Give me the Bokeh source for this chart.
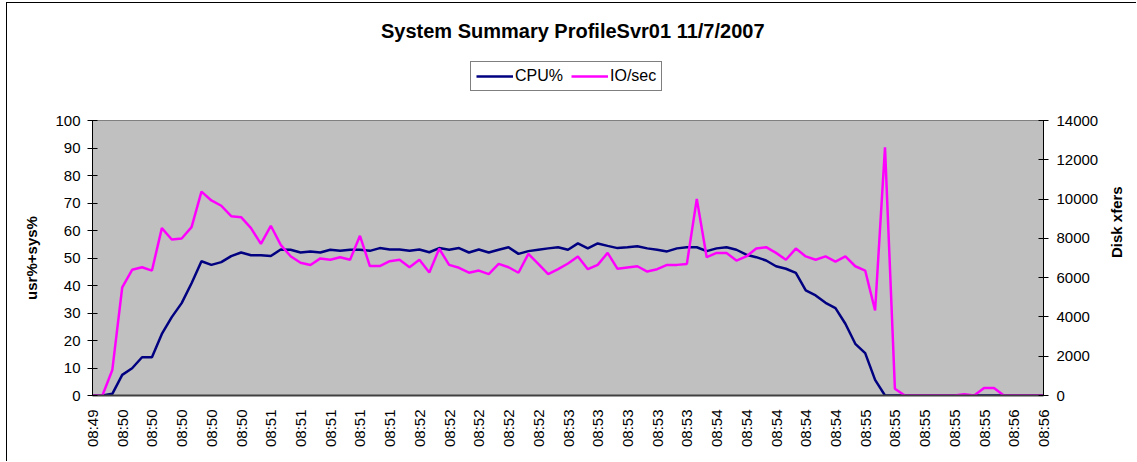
import math
from bokeh.plotting import figure
from bokeh.models import Range1d, LinearAxis, FixedTicker, Legend, LegendItem, Label, Column
from bokeh.embed import file_html
from bokeh.resources import INLINE

title_text = "System Summary ProfileSvr01  11/7/2007"

tick_labels = ["08:49",
               "08:50", "08:50", "08:50", "08:50", "08:50",
               "08:51", "08:51", "08:51", "08:51", "08:51",
               "08:52", "08:52", "08:52", "08:52", "08:52",
               "08:53", "08:53", "08:53", "08:53", "08:53",
               "08:54", "08:54", "08:54", "08:54", "08:54",
               "08:55", "08:55", "08:55", "08:55", "08:55",
               "08:56", "08:56"]

cpu = [0, 0, 0.6, 7.5, 9.9, 13.9, 13.9, 22.4, 28.5, 33.6,
       40.8, 48.8, 47.5, 48.5, 50.7, 52, 51, 51, 50.7, 53.1,
       53, 52, 52.4, 52, 53, 52.6, 53, 53, 52.6, 53.6,
       53.1, 53.1, 52.6, 53.1, 52.1, 53.6, 53, 53.6, 52, 53.1,
       52, 53, 53.9, 51.5, 52.5, 53, 53.5, 53.9, 53, 55.3,
       53.5, 55.3, 54.4, 53.6, 53.9, 54.3, 53.5, 53, 52.4, 53.5,
       53.9, 53.9, 52.5, 53.5, 53.9, 53, 51.2, 50.3, 49.1, 47,
       46.1, 44.6, 38.2, 36.4, 33.7, 31.8, 26.1, 18.8, 15.4, 5.7,
       0, 0, 0, 0, 0, 0, 0, 0, 0, 0,
       0, 0, 0, 0, 0, 0, 0]

io = [0, 0, 1300, 5500, 6400, 6530, 6360, 8520, 7940, 7990,
      8570, 10380, 9930, 9660, 9130, 9080, 8520, 7720, 8640, 7670,
      7090, 6760, 6640, 6980, 6910, 7040, 6910, 8130, 6590, 6590,
      6840, 6910, 6530, 6910, 6260, 7470, 6650, 6500, 6250, 6360,
      6180, 6700, 6530, 6250, 7210, 6700, 6180, 6430, 6720, 7080,
      6430, 6650, 7260, 6450, 6520, 6580, 6310, 6430, 6650, 6650,
      6700, 10010, 7040, 7260, 7260, 6870, 7080, 7480, 7550, 7260,
      6910, 7480, 7080, 6910, 7080, 6820, 7080, 6580, 6360, 4330,
      12640, 340, 0, 0, 0, 0, 0, 0, 60, 0,
      380, 380, 0, 0, 0, 0, 0]

x = list(range(len(cpu)))

FONT = "Liberation Sans"
NAVY = "#000080"
PINK = "#FF00FF"
W = 1129
NAN = float("nan")

# ---- header: title + legend (frame is aligned with the chart's frame) ----
head = figure(width=W, height=95, output_backend="svg", toolbar_location=None,
              x_range=Range1d(0, 1), y_range=Range1d(0, 1),
              x_axis_location=None, y_axis_location=None,
              min_border_left=0, min_border_right=0, min_border_top=0, min_border_bottom=0)
head.outline_line_color = None
head.background_fill_color = "white"
head.border_fill_color = "white"
head.xgrid.visible = False
head.ygrid.visible = False

head.add_layout(Label(x=483, y=68, x_units="screen", y_units="screen", text=title_text,
                      text_font=FONT, text_font_style="bold", text_font_size="20px",
                      text_align="center", text_baseline="middle", text_color="black"))

cpu_key = head.line(x=[NAN, NAN], y=[NAN, NAN], line_color=NAVY, line_width=2.5)
io_key = head.line(x=[NAN, NAN], y=[NAN, NAN], line_color=PINK, line_width=2.5)
legend = Legend(items=[LegendItem(label="CPU%", renderers=[cpu_key]),
                       LegendItem(label="IO/sec", renderers=[io_key])],
                location=(378, 7), orientation="horizontal")
legend.border_line_color = "black"
legend.border_line_width = 1
legend.background_fill_color = "white"
legend.background_fill_alpha = 1
legend.label_text_font = FONT
legend.label_text_font_size = "16px"
legend.label_text_color = "black"
legend.glyph_width = 37
legend.glyph_height = 16
legend.label_standoff = 2
legend.spacing = 8
legend.padding = 5
legend.margin = 0
head.add_layout(legend)

# ---- main chart ----
p = figure(width=W, height=363, output_backend="svg", toolbar_location=None,
           x_range=Range1d(0, len(cpu) - 1), y_range=Range1d(0, 100),
           min_border_left=85, min_border_right=93, min_border_top=22, min_border_bottom=66)
p.extra_y_ranges = {"io": Range1d(0, 14000)}
p.background_fill_color = "#C0C0C0"
p.border_fill_color = "white"
p.outline_line_color = "#808080"
p.outline_line_width = 1
p.xgrid.visible = False
p.ygrid.visible = False

xa = p.xaxis[0]
xa.ticker = FixedTicker(ticks=list(range(0, len(cpu), 3)))
xa.major_label_overrides = {i * 3: lbl for i, lbl in enumerate(tick_labels)}
xa.major_label_orientation = math.pi / 2
xa.major_tick_in = 0
xa.major_tick_out = 0
xa.minor_tick_in = 0
xa.minor_tick_out = 0
xa.major_label_standoff = 14
xa.major_label_text_font = FONT
xa.major_label_text_font_size = "15px"
xa.major_label_text_color = "black"
xa.axis_line_color = "#404040"
xa.axis_line_width = 2

ya = p.yaxis[0]
ya.ticker = FixedTicker(ticks=list(range(0, 101, 10)))
ya.major_tick_in = 5
ya.major_tick_out = 5
ya.minor_tick_in = 0
ya.minor_tick_out = 0
ya.major_label_standoff = 7
ya.major_label_text_font = FONT
ya.major_label_text_font_size = "15px"
ya.major_label_text_color = "black"
ya.axis_line_color = "black"
ya.axis_label = "usr%+sys%"
ya.axis_label_text_font = FONT
ya.axis_label_text_font_style = "bold"
ya.axis_label_text_font_size = "15px"
ya.axis_label_text_color = "black"
ya.axis_label_standoff = 12

ra = LinearAxis(y_range_name="io", ticker=FixedTicker(ticks=list(range(0, 14001, 2000))))
ra.major_tick_in = 5
ra.major_tick_out = 5
ra.minor_tick_in = 0
ra.minor_tick_out = 0
ra.major_label_standoff = 8
ra.major_label_text_font = FONT
ra.major_label_text_font_size = "15px"
ra.major_label_text_color = "black"
ra.axis_line_color = "black"
ra.axis_label = "Disk xfers"
ra.axis_label_text_font = FONT
ra.axis_label_text_font_style = "bold"
ra.axis_label_text_font_size = "15px"
ra.axis_label_text_color = "black"
ra.axis_label_standoff = 15
if "axis_label_orientation" in ra.properties():
    ra.axis_label_orientation = math.pi / 2
p.add_layout(ra, "right")

p.line(x, cpu, line_color=NAVY, line_width=2.5)
p.line(x, io, line_color=PINK, line_width=2.5, y_range_name="io")

page = Column(children=[head, p], spacing=0)
page.styles = {"margin-left": "6px", "margin-top": "2px",
               "border-left": "1px solid black", "border-top": "1px solid black"}

open("out.html", "w").write(file_html(page, INLINE))
